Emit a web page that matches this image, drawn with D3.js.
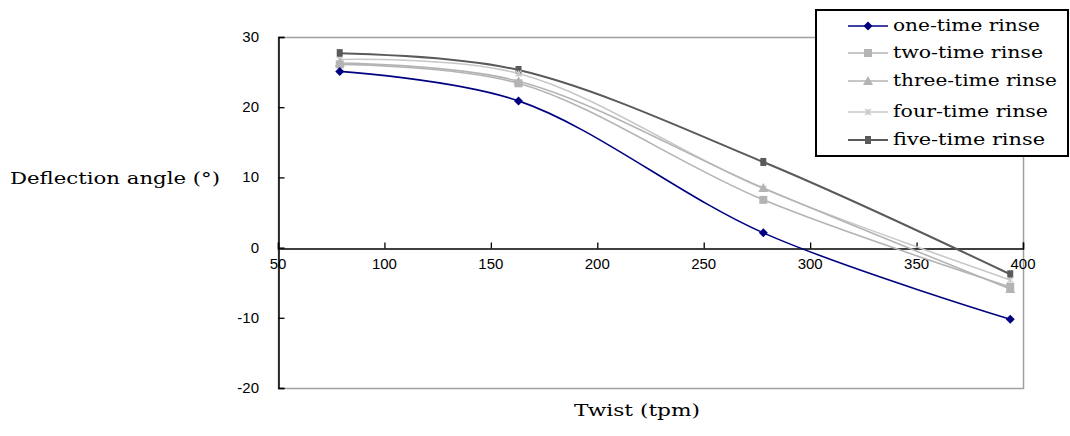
<!DOCTYPE html>
<html>
<head>
<meta charset="utf-8">
<script src="https://cdn.jsdelivr.net/npm/d3@7"></script>
<style>
  html, body { margin: 0; padding: 0; background: #fff; }
  svg { display: block; }
</style>
</head>
<body>
<svg id="chart" width="1070" height="436"></svg>
<script>
// Twist levels (tpm) at which deflection was measured
const twist = [79, 163, 278, 394];

// Deflection angle (degrees) per rinse count
const oneTime   = [25.1, 20.9, 2.1, -10.2];
const twoTime   = [26.1, 23.4, 6.8, -5.6];
const threeTime = [26.3, 23.7, 8.5, -5.9];
const fourTime  = [26.8, 24.8, 8.4, -4.6];
const fiveTime  = [27.7, 25.3, 12.2, -3.8];

const seriesNames = ["one-time rinse", "two-time rinse", "three-time rinse", "four-time rinse", "five-time rinse"];
const xTicks = [50, 100, 150, 200, 250, 300, 350, 400];
const yTicks = [-20, -10, 0, 10, 20, 30];

const series = [
  { name: seriesNames[0], values: oneTime,   color: "#000080", marker: "diamond" },
  { name: seriesNames[1], values: twoTime,   color: "#b4b4b4", marker: "square" },
  { name: seriesNames[2], values: threeTime, color: "#b4b4b4", marker: "triangle" },
  { name: seriesNames[3], values: fourTime,  color: "#c8c8c8", marker: "cross" },
  { name: seriesNames[4], values: fiveTime,  color: "#5a5a5a", marker: "bar" }
];

const serif = "'DejaVu Serif', 'Liberation Serif', serif";
const sans = "'Liberation Sans', Arial, sans-serif";

const svg = d3.select("#chart");
const plot = { left: 278, right: 1023, top: 37, bottom: 388 };

const x = d3.scaleLinear().domain([50, 400]).range([plot.left, plot.right]);
const y = d3.scaleLinear().domain([-20, 30]).range([plot.bottom, plot.top]);

// plot-area frame
svg.append("rect")
  .attr("x", plot.left + 0.5).attr("y", plot.top + 0.5)
  .attr("width", plot.right - plot.left).attr("height", plot.bottom - plot.top)
  .attr("fill", "none").attr("stroke", "#a0a0a0").attr("stroke-width", 1.5);

// y axis (ticks pointing inward)
const yAxis = svg.append("g").attr("transform", `translate(${plot.left + 0.5},0)`)
  .call(d3.axisRight(y).tickValues(yTicks).tickSize(6).tickFormat(""));
yAxis.select(".domain").attr("stroke", "#000").attr("stroke-width", 1.5);
yAxis.selectAll(".tick line").attr("stroke", "#000").attr("stroke-width", 1.3);

svg.append("g").selectAll("text").data(yTicks).join("text")
  .attr("x", 259).attr("y", d => y(d) + 5)
  .attr("text-anchor", "end")
  .attr("font-family", sans)
  .attr("font-size", 15)
  .attr("fill", "#000")
  .text(d => d);

// x axis crossing at zero, ticks pointing up
const xAxis = svg.append("g").attr("transform", `translate(0,${Math.round(y(0)) + 0.5})`)
  .call(d3.axisTop(x).tickValues(xTicks).tickSize(6).tickFormat(""));
xAxis.select(".domain").attr("stroke", "#000").attr("stroke-width", 1.5);
xAxis.selectAll(".tick line").attr("stroke", "#000").attr("stroke-width", 1.3);

svg.append("g").selectAll("text").data(xTicks).join("text")
  .attr("x", d => x(d)).attr("y", y(0) + 21)
  .attr("text-anchor", "middle")
  .attr("font-family", sans)
  .attr("font-size", 15)
  .attr("fill", "#000")
  .text(d => d);

// axis titles
svg.append("text")
  .attr("x", 10).attr("y", 184)
  .attr("font-family", serif)
  .attr("font-size", 16).attr("fill", "#000")
  .attr("textLength", 210).attr("lengthAdjust", "spacingAndGlyphs")
  .text("Deflection angle (°)");

svg.append("text")
  .attr("x", 574).attr("y", 416)
  .attr("font-family", serif)
  .attr("font-size", 16).attr("fill", "#000")
  .attr("textLength", 126).attr("lengthAdjust", "spacingAndGlyphs")
  .text("Twist (tpm)");

// marker shapes
function drawMarker(g, type, cx, cy, color) {
  if (type === "diamond") {
    g.append("path").attr("d", `M${cx},${cy - 4.5}L${cx + 4.5},${cy}L${cx},${cy + 4.5}L${cx - 4.5},${cy}Z`).attr("fill", color);
  } else if (type === "square") {
    g.append("rect").attr("x", cx - 4).attr("y", cy - 4).attr("width", 8).attr("height", 8).attr("fill", color);
  } else if (type === "triangle") {
    g.append("path").attr("d", `M${cx},${cy - 5}L${cx + 5},${cy + 4}L${cx - 5},${cy + 4}Z`).attr("fill", color);
  } else if (type === "cross") {
    g.append("path").attr("d", `M${cx - 3},${cy - 3}L${cx + 3},${cy + 3}M${cx + 3},${cy - 3}L${cx - 3},${cy + 3}M${cx},${cy - 3}L${cx},${cy + 3}`)
      .attr("stroke", color).attr("stroke-width", 1.2).attr("fill", "none");
  } else if (type === "bar") {
    g.append("rect").attr("x", cx - 3).attr("y", cy - 4).attr("width", 6).attr("height", 8).attr("fill", color);
  }
}

const line = d3.line()
  .x((d, i) => x(twist[i]))
  .y(d => y(d))
  .curve(d3.curveCatmullRom.alpha(0.5));

// draw in reverse so the first series sits on top
const lines = svg.append("g");
[...series].reverse().forEach(s => {
  const g = lines.append("g");
  g.append("path")
    .attr("d", line(s.values))
    .attr("fill", "none")
    .attr("stroke", s.color)
    .attr("stroke-width", s.marker === "bar" ? 2 : 1.6);
  s.values.forEach((v, i) => drawMarker(g, s.marker, x(twist[i]), y(v), s.color));
});

// legend
const legend = svg.append("g");
legend.append("rect")
  .attr("x", 816).attr("y", 10).attr("width", 252).attr("height", 146)
  .attr("fill", "#fff").attr("stroke", "#000").attr("stroke-width", 2);

const rowY = [26, 53, 81, 112, 140];
const labelWidths = [147, 150, 164, 155, 152];
series.forEach((s, i) => {
  const ly = rowY[i];
  legend.append("line")
    .attr("x1", 848).attr("x2", 888).attr("y1", ly).attr("y2", ly)
    .attr("stroke", s.color).attr("stroke-width", s.marker === "bar" ? 2 : 1.6);
  drawMarker(legend, s.marker, 868, ly, s.color);
  legend.append("text")
    .attr("x", 893).attr("y", ly + 5)
    .attr("font-family", serif)
    .attr("font-size", 17).attr("fill", "#000")
    .attr("textLength", labelWidths[i]).attr("lengthAdjust", "spacingAndGlyphs")
    .text(s.name);
});
</script>
</body>
</html>
